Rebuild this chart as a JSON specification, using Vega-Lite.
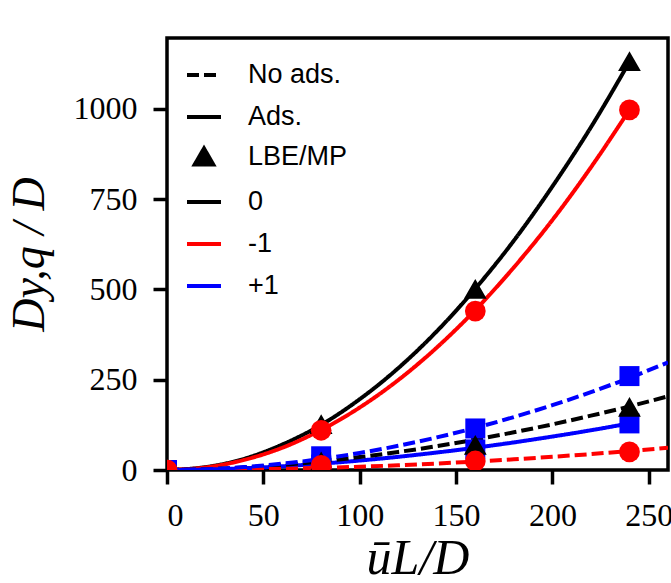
{
  "$schema": "https://vega.github.io/schema/vega-lite/v6.json",
  "autosize": {"type": "none"},
  "width": 501,
  "height": 432,
  "padding": {"left": 167, "top": 38, "right": 3, "bottom": 113},
  "background": "white",
  "config": {
    "view": {"stroke": "black", "strokeWidth": 3.5},
    "axis": {
      "grid": false,
      "domain": false,
      "tickColor": "black",
      "tickWidth": 3.5,
      "tickSize": 14,
      "labelFont": "Liberation Serif",
      "labelFontSize": 32,
      "labelColor": "black",
      "labelPadding": 16,
      "titleFont": "Liberation Serif",
      "titleFontStyle": "italic",
      "titleFontWeight": "normal",
      "titleFontSize": 44,
      "titleColor": "black"
    },
    "legend": {
      "orient": "top-left",
      "offset": 18,
      "padding": 0,
      "rowPadding": 10,
      "labelFont": "Liberation Sans",
      "labelFontSize": 27,
      "labelColor": "black",
      "labelOffset": 25,
      "title": null,
      "symbolType": "stroke",
      "symbolStrokeWidth": 4,
      "symbolFillColor": "black",
      "symbolOpacity": 1
    }
  },
  "datasets": {
    "curves": [
      {"x": 0, "y": 0, "q": "0", "ads": "Ads."},
      {"x": 20, "y": 8, "q": "0", "ads": "Ads."},
      {"x": 40, "y": 31, "q": "0", "ads": "Ads."},
      {"x": 60, "y": 71, "q": "0", "ads": "Ads."},
      {"x": 80, "y": 125, "q": "0", "ads": "Ads."},
      {"x": 100, "y": 196, "q": "0", "ads": "Ads."},
      {"x": 120, "y": 282, "q": "0", "ads": "Ads."},
      {"x": 140, "y": 384, "q": "0", "ads": "Ads."},
      {"x": 160, "y": 502, "q": "0", "ads": "Ads."},
      {"x": 180, "y": 635, "q": "0", "ads": "Ads."},
      {"x": 200, "y": 785, "q": "0", "ads": "Ads."},
      {"x": 220, "y": 949, "q": "0", "ads": "Ads."},
      {"x": 240, "y": 1130, "q": "0", "ads": "Ads."},
      {"x": 0, "y": 0, "q": "-1", "ads": "Ads."},
      {"x": 20, "y": 7, "q": "-1", "ads": "Ads."},
      {"x": 40, "y": 28, "q": "-1", "ads": "Ads."},
      {"x": 60, "y": 62, "q": "-1", "ads": "Ads."},
      {"x": 80, "y": 111, "q": "-1", "ads": "Ads."},
      {"x": 100, "y": 173, "q": "-1", "ads": "Ads."},
      {"x": 120, "y": 249, "q": "-1", "ads": "Ads."},
      {"x": 140, "y": 339, "q": "-1", "ads": "Ads."},
      {"x": 160, "y": 443, "q": "-1", "ads": "Ads."},
      {"x": 180, "y": 561, "q": "-1", "ads": "Ads."},
      {"x": 200, "y": 692, "q": "-1", "ads": "Ads."},
      {"x": 220, "y": 838, "q": "-1", "ads": "Ads."},
      {"x": 240, "y": 997, "q": "-1", "ads": "Ads."},
      {"x": 0, "y": 0, "q": "+1", "ads": "Ads."},
      {"x": 20, "y": 1.4, "q": "+1", "ads": "Ads."},
      {"x": 40, "y": 4.9, "q": "+1", "ads": "Ads."},
      {"x": 60, "y": 10.3, "q": "+1", "ads": "Ads."},
      {"x": 80, "y": 17.5, "q": "+1", "ads": "Ads."},
      {"x": 100, "y": 26.2, "q": "+1", "ads": "Ads."},
      {"x": 120, "y": 36.5, "q": "+1", "ads": "Ads."},
      {"x": 140, "y": 48.4, "q": "+1", "ads": "Ads."},
      {"x": 160, "y": 61.7, "q": "+1", "ads": "Ads."},
      {"x": 180, "y": 76.4, "q": "+1", "ads": "Ads."},
      {"x": 200, "y": 92.6, "q": "+1", "ads": "Ads."},
      {"x": 220, "y": 110, "q": "+1", "ads": "Ads."},
      {"x": 240, "y": 129, "q": "+1", "ads": "Ads."},
      {"x": 0, "y": 0, "q": "0", "ads": "No ads."},
      {"x": 20, "y": 1.9, "q": "0", "ads": "No ads."},
      {"x": 40, "y": 6.8, "q": "0", "ads": "No ads."},
      {"x": 60, "y": 14.1, "q": "0", "ads": "No ads."},
      {"x": 80, "y": 23.8, "q": "0", "ads": "No ads."},
      {"x": 100, "y": 35.8, "q": "0", "ads": "No ads."},
      {"x": 120, "y": 49.9, "q": "0", "ads": "No ads."},
      {"x": 140, "y": 66, "q": "0", "ads": "No ads."},
      {"x": 160, "y": 84.2, "q": "0", "ads": "No ads."},
      {"x": 180, "y": 104.4, "q": "0", "ads": "No ads."},
      {"x": 200, "y": 126.4, "q": "0", "ads": "No ads."},
      {"x": 220, "y": 150.4, "q": "0", "ads": "No ads."},
      {"x": 240, "y": 176, "q": "0", "ads": "No ads."},
      {"x": 260, "y": 204, "q": "0", "ads": "No ads."},
      {"x": 0, "y": 0, "q": "-1", "ads": "No ads."},
      {"x": 20, "y": 0.36, "q": "-1", "ads": "No ads."},
      {"x": 40, "y": 1.46, "q": "-1", "ads": "No ads."},
      {"x": 60, "y": 3.3, "q": "-1", "ads": "No ads."},
      {"x": 80, "y": 5.8, "q": "-1", "ads": "No ads."},
      {"x": 100, "y": 9.1, "q": "-1", "ads": "No ads."},
      {"x": 120, "y": 13.1, "q": "-1", "ads": "No ads."},
      {"x": 140, "y": 17.9, "q": "-1", "ads": "No ads."},
      {"x": 160, "y": 23.3, "q": "-1", "ads": "No ads."},
      {"x": 180, "y": 29.5, "q": "-1", "ads": "No ads."},
      {"x": 200, "y": 36.5, "q": "-1", "ads": "No ads."},
      {"x": 220, "y": 44.1, "q": "-1", "ads": "No ads."},
      {"x": 240, "y": 52.5, "q": "-1", "ads": "No ads."},
      {"x": 260, "y": 61.6, "q": "-1", "ads": "No ads."},
      {"x": 0, "y": 0, "q": "+1", "ads": "No ads."},
      {"x": 20, "y": 2.1, "q": "+1", "ads": "No ads."},
      {"x": 40, "y": 8, "q": "+1", "ads": "No ads."},
      {"x": 60, "y": 17.6, "q": "+1", "ads": "No ads."},
      {"x": 80, "y": 30.6, "q": "+1", "ads": "No ads."},
      {"x": 100, "y": 47.2, "q": "+1", "ads": "No ads."},
      {"x": 120, "y": 67, "q": "+1", "ads": "No ads."},
      {"x": 140, "y": 90.2, "q": "+1", "ads": "No ads."},
      {"x": 160, "y": 116.7, "q": "+1", "ads": "No ads."},
      {"x": 180, "y": 146.5, "q": "+1", "ads": "No ads."},
      {"x": 200, "y": 179.5, "q": "+1", "ads": "No ads."},
      {"x": 220, "y": 215.7, "q": "+1", "ads": "No ads."},
      {"x": 240, "y": 255, "q": "+1", "ads": "No ads."},
      {"x": 260, "y": 298, "q": "+1", "ads": "No ads."}
    ],
    "markers": [
      {"x": 0, "y": 0, "q": "0", "ads": "Ads."},
      {"x": 80, "y": 125, "q": "0", "ads": "Ads."},
      {"x": 160, "y": 500, "q": "0", "ads": "Ads."},
      {"x": 240, "y": 1130, "q": "0", "ads": "Ads."},
      {"x": 0, "y": 0, "q": "0", "ads": "No ads."},
      {"x": 80, "y": 22, "q": "0", "ads": "No ads."},
      {"x": 160, "y": 68, "q": "0", "ads": "No ads."},
      {"x": 240, "y": 173, "q": "0", "ads": "No ads."},
      {"x": 0, "y": 0, "q": "-1", "ads": "Ads."},
      {"x": 80, "y": 110, "q": "-1", "ads": "Ads."},
      {"x": 160, "y": 440, "q": "-1", "ads": "Ads."},
      {"x": 240, "y": 997, "q": "-1", "ads": "Ads."},
      {"x": 0, "y": 0, "q": "-1", "ads": "No ads."},
      {"x": 80, "y": 13, "q": "-1", "ads": "No ads."},
      {"x": 160, "y": 25, "q": "-1", "ads": "No ads."},
      {"x": 240, "y": 50, "q": "-1", "ads": "No ads."},
      {"x": 0, "y": 0, "q": "+1", "ads": "Ads."},
      {"x": 80, "y": 15, "q": "+1", "ads": "Ads."},
      {"x": 160, "y": 57, "q": "+1", "ads": "Ads."},
      {"x": 240, "y": 129, "q": "+1", "ads": "Ads."},
      {"x": 0, "y": 0, "q": "+1", "ads": "No ads."},
      {"x": 80, "y": 38, "q": "+1", "ads": "No ads."},
      {"x": 160, "y": 115, "q": "+1", "ads": "No ads."},
      {"x": 240, "y": 260, "q": "+1", "ads": "No ads."}
    ]
  },
  "encoding": {
    "x": {
      "field": "x", "type": "quantitative",
      "scale": {"domain": [0, 260], "nice": false, "zero": false},
      "axis": {"values": [0, 50, 100, 150, 200, 250], "title": "ūL/D", "titlePadding": 2, "titleFontSize": 50}
    },
    "y": {
      "field": "y", "type": "quantitative",
      "scale": {"domain": [0, 1196], "nice": false},
      "axis": {"values": [0, 250, 500, 750, 1000], "format": "d", "title": "Dy,q  /  D", "titlePadding": 20, "titleFontSize": 46}
    }
  },
  "layer": [
    {
      "data": {"name": "curves"},
      "mark": {"type": "line", "strokeWidth": 4, "interpolate": "monotone", "clip": true},
      "encoding": {
        "color": {
          "field": "q", "type": "nominal",
          "scale": {
            "domain": ["No ads.", "Ads.", "LBE/MP", "0", "-1", "+1"],
            "range": ["#000000", "#000000", "#000000", "#000000", "#ff0000", "#0000ff"]
          }
        },
        "strokeDash": {
          "field": "ads", "type": "nominal",
          "scale": {
            "domain": ["No ads.", "Ads.", "LBE/MP", "0", "-1", "+1"],
            "range": [[12, 5], [1, 0], [1, 0], [1, 0], [1, 0], [1, 0]]
          }
        }
      }
    },
    {
      "data": {"name": "markers"},
      "transform": [{"filter": {"field": "q", "equal": "+1"}}],
      "mark": {"type": "point", "shape": "square", "filled": true, "color": "#0000ff", "opacity": 1, "size": 400, "clip": true}
    },
    {
      "data": {"name": "markers"},
      "transform": [{"filter": {"field": "q", "equal": "0"}}],
      "mark": {"type": "point", "filled": true, "color": "#000000", "stroke": "#000000", "strokeWidth": 2.5, "strokeJoin": "miter", "opacity": 1, "clip": true},
      "encoding": {
        "shape": {
          "datum": "LBE/MP", "type": "nominal",
          "scale": {
            "domain": ["No ads.", "Ads.", "LBE/MP", "0", "-1", "+1"],
            "range": ["stroke", "stroke", "triangle-up", "stroke", "stroke", "stroke"]
          }
        },
        "size": {
          "datum": "LBE/MP", "type": "nominal",
          "scale": {
            "type": "ordinal",
            "domain": ["No ads.", "Ads.", "LBE/MP", "0", "-1", "+1"],
            "range": [1156, 1156, 340, 1156, 1156, 1156]
          }
        }
      }
    },
    {
      "data": {"name": "markers"},
      "transform": [{"filter": {"field": "q", "equal": "-1"}}],
      "mark": {"type": "point", "shape": "circle", "filled": true, "color": "#ff0000", "opacity": 1, "size": 430, "clip": true}
    }
  ]
}
